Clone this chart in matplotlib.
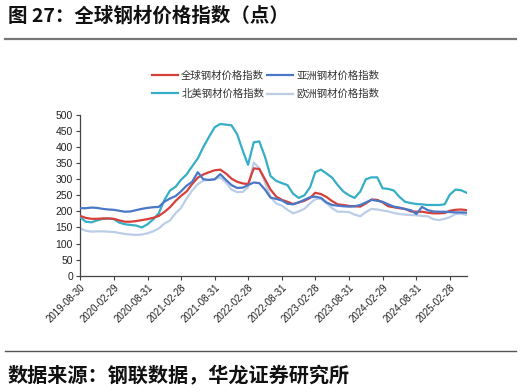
import matplotlib
matplotlib.use("Agg")
import matplotlib.pyplot as plt
import pandas as pd
from matplotlib.lines import Line2D

plt.rcParams['font.family'] = ['Noto Sans CJK SC', 'DejaVu Sans']

dates = pd.date_range('2019-08-31', '2025-05-31', freq='ME')

global_idx = [186, 180, 177, 177, 178, 178, 177, 172, 168, 168,
              170, 173, 176, 180, 186, 198, 213, 233, 248, 262,
              285, 305, 315, 322, 328, 330, 318, 302, 292, 287,
              285, 334, 332, 300, 268, 246, 236, 230, 223, 228,
              233, 242, 258, 254, 245, 232, 222, 220, 217, 216,
              215, 225, 237, 236, 228, 216, 213, 210, 208, 200,
              199, 199, 196, 194, 194, 195, 202, 205, 206, 204]

asia_idx = [210, 210, 212, 211, 208, 206, 205, 202, 199, 200,
            204, 208, 211, 213, 214, 230, 240, 248, 262, 280,
            292, 322, 300, 298, 300, 316, 298, 282, 273, 274,
            282, 290, 288, 268, 243, 239, 234, 224, 222, 228,
            236, 244, 246, 242, 228, 220, 218, 216, 215, 216,
            220, 228, 236, 233, 230, 222, 215, 212, 207, 204,
            192, 214, 204, 200, 199, 199, 198, 197, 197, 196]

na_idx = [182, 168, 166, 172, 177, 178, 176, 165, 160, 158,
          156, 150, 160, 175, 194, 235, 265, 277, 298, 315,
          340, 365, 400, 432, 462, 472, 470, 468, 440, 388,
          345, 415, 418, 370, 310, 295, 288, 282, 255, 242,
          250, 275, 322, 330, 318, 305, 282, 262, 250, 242,
          262, 300, 306, 306, 272, 270, 265, 245, 230, 226,
          223, 222, 220, 220, 220, 222, 252, 268, 266, 258]

eu_idx = [147, 140, 137, 138, 138, 137, 136, 133, 130, 128,
          127, 128, 132, 138, 147, 162, 172, 195, 210, 240,
          265, 285, 296, 298, 300, 306, 290, 268, 260, 261,
          275, 352, 335, 290, 245, 225, 218, 205, 194, 200,
          208, 225, 238, 240, 225, 210, 199, 199, 198, 190,
          185, 198, 208, 206, 203, 200, 195, 192, 190, 189,
          188, 186, 185, 176, 173, 177, 182, 192, 193, 189]

tick_labels = ['2019-08-30', '2020-02-29', '2020-08-31', '2021-02-28',
               '2021-08-31', '2022-02-28', '2022-08-31', '2023-02-28',
               '2023-08-31', '2024-02-29', '2024-08-31', '2025-02-28']

series_names = ['全球钢材价格指数', '亚洲钢材价格指数', '北美钢材价格指数', '欧洲钢材价格指数']
colors = ['#d63f3a', '#4a78c6', '#35aec6', '#bccde8']

fig = plt.figure(figsize=(5.21, 3.92), dpi=100)
ax = fig.add_axes([80/521, 1-275.7/392, (466.7-80)/521, (275.7-115)/392])

ax.plot(dates, eu_idx, color=colors[3], lw=1.6, zorder=2)
ax.plot(dates, na_idx, color=colors[2], lw=1.6, zorder=3)
ax.plot(dates, global_idx, color=colors[0], lw=1.6, zorder=4)
ax.plot(dates, asia_idx, color=colors[1], lw=1.6, zorder=5)

ax.set_ylim(0, 500)
ax.set_yticks(range(0, 501, 50))
ticks = pd.to_datetime(tick_labels)
ax.set_xlim(pd.Timestamp('2019-08-30'), dates[-1])
ax.set_xticks(ticks)
ax.set_xticklabels(tick_labels, rotation=45, ha='right', rotation_mode='anchor',
                   fontsize=7, family=['Liberation Sans'], color='#222222')
for lab in ax.get_yticklabels():
    lab.set_family(['Liberation Sans'])
    lab.set_fontsize(7.5)
    lab.set_color('#222222')
ax.tick_params(axis='both', direction='out', length=3, width=0.8, color='#444444', pad=1.5)
ax.tick_params(axis='y', pad=2)
for s in ['top', 'right']:
    ax.spines[s].set_visible(False)
for s in ['left', 'bottom']:
    ax.spines[s].set_color('#444444')
    ax.spines[s].set_linewidth(0.9)

handles = [Line2D([], [], color=colors[i], lw=1.6) for i in range(4)]
order = [0, 2, 1, 3]
fig.legend([handles[i] for i in order], [series_names[i] for i in order],
           ncol=2, frameon=False, loc='upper left',
           bbox_to_anchor=(152/521, 1-71/392), fontsize=7.5,
           handlelength=2.5, handletextpad=0.3, columnspacing=0.3,
           labelspacing=0.75, borderaxespad=0, borderpad=0,
           labelcolor='#333333')

fig.text(8/521, 1-16/392, '图 27：全球钢材价格指数（点）', fontsize=14,
         fontweight='bold', va='center', ha='left', color='#111111')
fig.add_artist(Line2D([5/521, 516/521], [1-38.5/392, 1-38.5/392],
                      color='#777777', lw=1.6))
fig.add_artist(Line2D([5/521, 516/521], [1-351/392, 1-351/392],
                      color='#555555', lw=1.0))
fig.text(8/521, 1-375/392, '数据来源：钢联数据，华龙证券研究所', fontsize=14.5,
         fontweight='bold', va='center', ha='left', color='#111111')

fig.savefig('out.png', dpi=100)
